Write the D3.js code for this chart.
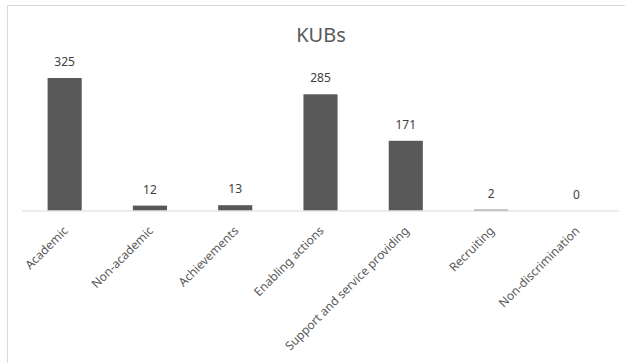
<!DOCTYPE html>
<html>
<head>
<meta charset="utf-8">
<script src="https://cdn.jsdelivr.net/npm/d3@7"></script>
<style>
  html, body { margin: 0; padding: 0; background: #fff; }
  svg { display: block; font-family: "Noto Sans", "Open Sans", sans-serif; }
</style>
</head>
<body>
<svg id="chart" width="625" height="363"></svg>
<script>
const categories = ["Academic", "Non-academic", "Achievements", "Enabling actions",
  "Support and service providing", "Recruiting", "Non-discrimination"];
const values = [325, 12, 13, 285, 171, 2, 0];
const title = "KUBs";

const svg = d3.select("#chart");
const W = 625, H = 363;
const margin = { left: 22, right: 6, top: 78, bottom: 152.5 };
const plotBottom = H - margin.bottom;

// chart frame (left and top edges visible)
svg.append("path")
  .attr("d", `M7.5,${H} V5.5 H${W}`)
  .attr("fill", "none")
  .attr("stroke", "#d9d9d9");

svg.append("text")
  .attr("x", 321).attr("y", 42)
  .attr("text-anchor", "middle")
  .attr("font-size", 20)
  .attr("fill", "#595959")
  .text(title);

const x = d3.scaleBand()
  .domain(categories)
  .range([margin.left, W - margin.right])
  .paddingInner(0.6)
  .paddingOuter(0.3);

const y = d3.scaleLinear()
  .domain([0, 325])
  .range([plotBottom, margin.top]);

const data = categories.map((c, i) => ({ c, v: values[i] }));

svg.selectAll("rect.bar")
  .data(data)
  .join("rect")
  .attr("class", "bar")
  .attr("x", d => x(d.c))
  .attr("y", d => y(d.v))
  .attr("width", x.bandwidth())
  .attr("height", d => plotBottom - y(d.v))
  .attr("fill", "#595959");

svg.selectAll("text.val")
  .data(data)
  .join("text")
  .attr("class", "val")
  .attr("x", d => x(d.c) + x.bandwidth() / 2)
  .attr("y", d => y(d.v) - 12)
  .attr("text-anchor", "middle")
  .attr("font-size", 12)
  .attr("fill", "#404040")
  .text(d => d.v);

// category axis
const axis = svg.append("g")
  .attr("transform", `translate(0,${plotBottom})`)
  .call(d3.axisBottom(x).tickSize(0).tickPadding(0));
axis.select(".domain").attr("stroke", "#d9d9d9").attr("d", `M${margin.left},0.5H${W - margin.right}`);
axis.selectAll(".tick text")
  .attr("font-family", "\"Noto Sans\", \"Open Sans\", sans-serif")
  .attr("font-size", 12)
  .attr("fill", "#595959")
  .attr("text-anchor", "end")
  .attr("dy", null)
  .attr("y", 0)
  .attr("transform", "translate(4,21) rotate(-45)");
</script>
</body>
</html>
